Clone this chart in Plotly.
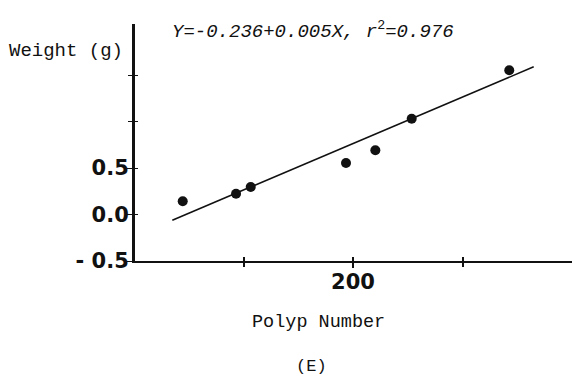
import plotly.graph_objects as go

# Polyp count vs. colony weight
polyp_number = [44.5, 93.2, 106.6, 193.6, 220.4, 253.6, 342.7]
weight_g = [0.142, 0.224, 0.296, 0.554, 0.691, 1.031, 1.552]

# Fitted regression: Y = a + bX
intercept = -0.236
slope = 0.005
fit_x_range = [35, 365]

x_range = [0, 400]
y_range = [-0.5, 2.05]
x_label_ticks = [200]
x_label_text = ["200"]
x_plain_ticks = [100, 300]
y_label_ticks = [-0.5, 0.0, 0.5]
y_label_text = ["- 0.5", "0.0", "0.5"]
y_plain_ticks = [1.0, 1.5]

fit_y = [intercept + slope * x for x in fit_x_range]

mono = "Liberation Mono"
ink = "#111111"

fig = go.Figure()
fig.add_trace(go.Scatter(
    x=fit_x_range, y=fit_y, mode="lines",
    line=dict(color=ink, width=1.6), hoverinfo="skip", showlegend=False,
))
fig.add_trace(go.Scatter(
    x=polyp_number, y=weight_g, mode="markers",
    marker=dict(color=ink, size=10), showlegend=False,
))
# empty traces that carry the extra tick-only axes
for k in ("2", "3"):
    fig.add_trace(go.Scatter(x=[None], y=[None], xaxis="x" + k, yaxis="y" + k,
                             mode="markers", showlegend=False, hoverinfo="skip"))

W, H = 572, 379
L, R, T, B = 134, 0, 24, 118
pw, ph = W - L - R, H - T - B


def px(xp):
    return (xp - L) / pw


def py(yp):
    return (H - B - yp) / ph


bare = dict(showgrid=False, zeroline=False, showline=False, showticklabels=False,
            tickcolor=ink)

fig.update_layout(
    width=W, height=H,
    margin=dict(l=L, r=R, t=T, b=B, pad=0),
    paper_bgcolor="white", plot_bgcolor="white",
    xaxis=dict(
        range=x_range, showgrid=False, zeroline=False,
        showline=True, linecolor=ink, linewidth=1.6,
        ticks="outside", ticklen=5, tickwidth=1.6, tickcolor=ink,
        tickvals=x_label_ticks, ticktext=x_label_text,
        ticklabelstandoff=-4,
        tickfont=dict(family="DejaVu Sans", size=21, color=ink, weight="bold"),
    ),
    xaxis2=dict(range=x_range, overlaying="x", anchor="y2", side="bottom",
                tickvals=x_plain_ticks, ticks="outside", ticklen=5, tickwidth=1.6, **bare),
    xaxis3=dict(range=x_range, overlaying="x", anchor="y3", side="bottom",
                tickvals=x_label_ticks + x_plain_ticks, ticks="inside", ticklen=4,
                tickwidth=1.6, **bare),
    yaxis=dict(
        range=y_range, showgrid=False, zeroline=False,
        showline=True, linecolor=ink, linewidth=2,
        ticks="outside", ticklen=5, tickwidth=1.4, tickcolor=ink,
        tickvals=y_label_ticks, ticktext=y_label_text,
        ticklabelstandoff=-6,
        tickfont=dict(family="DejaVu Sans", size=21, color=ink, weight="bold"),
    ),
    yaxis2=dict(range=y_range, overlaying="y", anchor="x2", side="left",
                tickvals=y_plain_ticks, ticks="outside", ticklen=5, tickwidth=1.4, **bare),
    yaxis3=dict(range=y_range, overlaying="y", anchor="x3", side="left",
                tickvals=y_label_ticks[1:] + y_plain_ticks, ticks="inside", ticklen=4,
                tickwidth=1.4, **bare),
    # heavier spine for the weight axis along the plot's left edge
    shapes=[
        dict(type="line", xref="paper", yref="paper", x0=0, x1=0, y0=0, y1=1,
             line=dict(color=ink, width=2), layer="above"),
    ],
    annotations=[
        dict(text="Weight (g)", x=px(125), y=py(51), xref="paper", yref="paper",
             xanchor="right", yanchor="middle", showarrow=False,
             font=dict(family=mono, size=19, color=ink)),
        dict(text="<i>Y=-0.236+0.005X, r</i><sup>2</sup><i>=0.976</i>",
             x=px(170), y=py(30), xref="paper", yref="paper",
             xanchor="left", yanchor="middle", showarrow=False,
             font=dict(family=mono, size=19, color=ink)),
        dict(text="Polyp Number", x=px(318), y=py(322), xref="paper", yref="paper",
             xanchor="center", yanchor="middle", showarrow=False,
             font=dict(family=mono, size=18.5, color=ink)),
        dict(text="(E)", x=px(311), y=py(367), xref="paper", yref="paper",
             xanchor="center", yanchor="middle", showarrow=False,
             font=dict(family=mono, size=17, color=ink)),
    ],
)

fig.write_html("out.html")
